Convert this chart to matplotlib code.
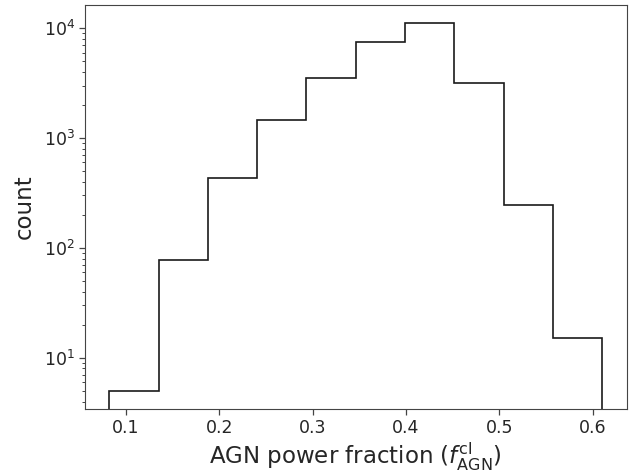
import numpy as np
import matplotlib
matplotlib.use("Agg")
import matplotlib.pyplot as plt

# bin edges and counts
edges = [0.0825, 0.1353, 0.1880, 0.2408, 0.2935, 0.3463, 0.3990, 0.4518, 0.5045, 0.5573, 0.6100]
counts = [5, 78, 430, 1450, 3540, 7430, 11030, 3185, 245, 15]

plt.rcParams['font.family'] = ['DejaVu Sans']
plt.rcParams['axes.edgecolor'] = '#444444'
plt.rcParams['xtick.color'] = '#444444'
plt.rcParams['ytick.color'] = '#444444'
plt.rcParams['xtick.labelcolor'] = '#262626'
plt.rcParams['ytick.labelcolor'] = '#262626'
plt.rcParams['axes.labelcolor'] = '#262626'

fig, ax = plt.subplots(figsize=(6.33, 4.73), dpi=100)
fig.subplots_adjust(left=0.134, right=0.99, top=0.989, bottom=0.135)

ax.hist(edges[:-1], bins=edges, weights=counts, histtype='step', log=True,
        color='#1a1a1a', linewidth=1.2)

ax.set_xlim(0.0561, 0.6364)
ax.set_ylim(3.41, 16180)
ax.tick_params(axis='both', which='major', labelsize=12.5, length=4, width=0.9, pad=3)
ax.tick_params(axis='y', which='minor', length=2.5, width=0.7)
ax.set_xticks([0.1, 0.2, 0.3, 0.4, 0.5, 0.6])
ax.set_xlabel(r'AGN power fraction ($f_{\rm AGN}^{\rm cl}$)', fontsize=16.5, labelpad=3)
ax.set_ylabel('count', fontsize=16.5, labelpad=6)

plt.savefig('out.png', dpi=100)
